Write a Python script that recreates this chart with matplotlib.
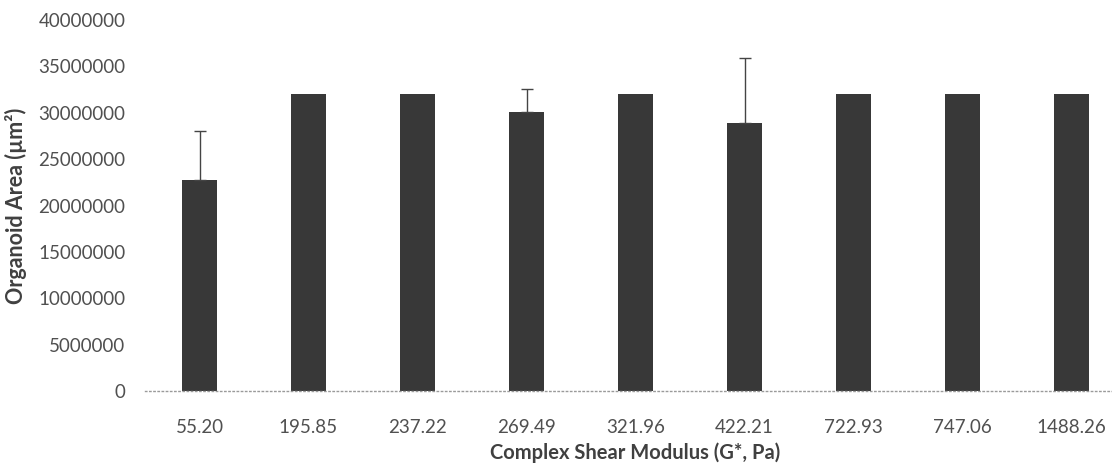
import matplotlib
matplotlib.use("Agg")
import matplotlib.pyplot as plt
import numpy as np

categories = ["55.20", "195.85", "237.22", "269.49", "321.96", "422.21", "722.93", "747.06", "1488.26"]
values = [22800000, 32000000, 32000000, 30100000, 32000000, 28900000, 32000000, 32000000, 32000000]
errors = [5200000, 0, 0, 2500000, 0, 7000000, 0, 0, 0]
yticks = [0, 5000000, 10000000, 15000000, 20000000, 25000000, 30000000, 35000000, 40000000]

plt.rcParams['font.family'] = ['Lato', 'DejaVu Sans']

W, H = 1112, 468
fig = plt.figure(figsize=(W / 100, H / 100), dpi=100)
left, right = 145, 1126
bottom, top = 391, 20
ax = fig.add_axes([left / W, 1 - bottom / H, (right - left) / W, (bottom - top) / H])

x = np.arange(len(categories))
ax.bar(x, values, width=0.32, color='#383838', zorder=2)
for xi, v, e in zip(x, values, errors):
    if e > 0:
        ax.errorbar(xi, v, yerr=[[0], [e]], fmt='none', ecolor='#444444',
                    elinewidth=1.0, capsize=4, capthick=1.0, zorder=3)

ax.set_xlim(-0.5, len(categories) - 0.5)
ax.set_ylim(0, 40000000)
ax.set_yticks(yticks)
ax.set_yticklabels([str(t) for t in yticks])
ax.set_xticks(x)
ax.set_xticklabels(categories)

for s in ['top', 'right', 'left']:
    ax.spines[s].set_visible(False)
ax.spines['bottom'].set_color('#9a9a9a')
ax.spines['bottom'].set_linestyle((0, (1, 2)))
ax.spines['bottom'].set_linewidth(1.0)

ax.tick_params(axis='both', length=0, labelsize=13.5, colors='#505050')
ax.tick_params(axis='y', pad=14)
ax.tick_params(axis='x', pad=20)

ax.set_ylabel("Organoid Area (µm²)", fontsize=15.5, color='#404040', fontweight='bold', labelpad=8)
ax.set_xlabel("Complex Shear Modulus (G*, Pa)", fontsize=14.5, color='#404040', fontweight='bold', labelpad=5)

fig.savefig("out.png", dpi=100)
